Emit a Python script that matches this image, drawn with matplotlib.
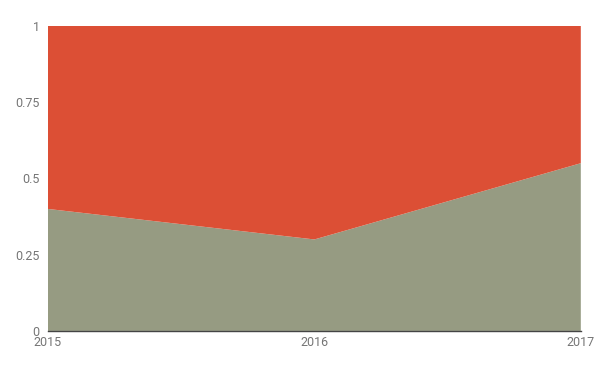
import matplotlib

matplotlib.use("Agg")
import matplotlib.pyplot as plt

plt.rcParams["font.family"] = ["Roboto", "DejaVu Sans"]

years = ["2015", "2016", "2017"]
bottom_share = [0.40, 0.30, 0.55]
top_share = [0.60, 0.70, 0.45]
y_ticks = [0, 0.25, 0.5, 0.75, 1]
y_labels = ["0", "0.25", "0.5", "0.75", "1"]

fig = plt.figure(figsize=(6, 3.71), dpi=100)
ax = fig.add_axes([0.08, 0.108, 0.888, 0.822])

x = list(range(len(years)))
ax.stackplot(x, bottom_share, top_share, colors=["#969b82", "#dc4f35"], linewidth=0)

ax.set_xlim(0, len(years) - 1)
ax.set_ylim(0, 1)
ax.set_xticks(x)
ax.set_xticklabels(years)
ax.set_yticks(y_ticks)
ax.set_yticklabels(y_labels)
ax.tick_params(colors="#757575", labelsize=9, length=0, pad=6)
ax.tick_params(axis="x", pad=4)

for side in ["top", "right", "left"]:
    ax.spines[side].set_visible(False)
ax.spines["bottom"].set_color("#444444")
ax.spines["bottom"].set_linewidth(1)

fig.savefig("out.png", dpi=100)
